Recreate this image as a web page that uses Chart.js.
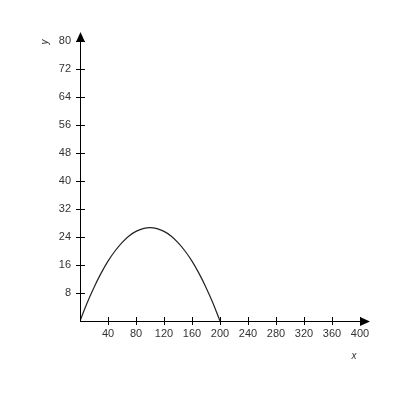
<!DOCTYPE html>
<html>
<head>
<meta charset="utf-8">
<script src="https://cdn.jsdelivr.net/npm/chart.js@4"></script>
<style>
  html, body { margin: 0; padding: 0; background: #fff; }
  #wrap { width: 400px; height: 400px; }
</style>
</head>
<body>
<div id="wrap"><canvas id="myChart" width="400" height="400"></canvas></div>
<script>
// values
const xValues = [0, 10, 20, 30, 40, 50, 60, 70, 80, 90, 100, 110, 120, 130, 140, 150, 160, 170, 180, 190, 200];
const yValues = [0, 5.1, 9.6, 13.6, 17.1, 20, 22.4, 24.3, 25.6, 26.4, 26.7, 26.4, 25.6, 24.3, 22.4, 20, 17.1, 13.6, 9.6, 5.1, 0];
const xTicks = [40, 80, 120, 160, 200, 240, 280, 320, 360, 400];
const yTicks = [8, 16, 24, 32, 40, 48, 56, 64, 72, 80];

const points = xValues.map((x, i) => ({ x: x, y: yValues[i] }));

// axes with arrows and ticks crossing the axis lines
const axesPlugin = {
    id: 'axesPlugin',
    afterDraw(chart) {
        const ctx = chart.ctx;
        const xs = chart.scales.x;
        const ys = chart.scales.y;
        const ox = xs.getPixelForValue(0);
        const oy = ys.getPixelForValue(0);
        ctx.save();
        ctx.strokeStyle = '#000';
        ctx.fillStyle = '#000';
        ctx.lineWidth = 1;

        // axis lines
        ctx.beginPath();
        ctx.moveTo(ox + 0.5, oy);
        ctx.lineTo(ox + 0.5, ys.getPixelForValue(80) - 4);
        ctx.moveTo(ox, oy + 0.5);
        ctx.lineTo(xs.getPixelForValue(400) + 4, oy + 0.5);
        ctx.stroke();

        // tick marks
        ctx.beginPath();
        xTicks.forEach(v => {
            const px = Math.round(xs.getPixelForValue(v)) + 0.5;
            ctx.moveTo(px, oy - 4);
            ctx.lineTo(px, oy + 4);
        });
        yTicks.forEach(v => {
            const py = Math.round(ys.getPixelForValue(v)) + 0.5;
            ctx.moveTo(ox - 4, py);
            ctx.lineTo(ox + 5, py);
        });
        ctx.stroke();

        // arrow heads
        const topY = ys.getPixelForValue(80);
        ctx.beginPath();
        ctx.moveTo(ox + 0.5, topY - 9);
        ctx.lineTo(ox - 4, topY + 1);
        ctx.lineTo(ox + 5, topY + 1);
        ctx.closePath();
        ctx.fill();
        const rightX = xs.getPixelForValue(400);
        ctx.beginPath();
        ctx.moveTo(rightX + 10, oy + 0.5);
        ctx.lineTo(rightX, oy - 4);
        ctx.lineTo(rightX, oy + 5);
        ctx.closePath();
        ctx.fill();

        // axis names
        ctx.fillStyle = '#333';
        ctx.font = 'italic 10px "Liberation Sans", Arial, sans-serif';
        ctx.textAlign = 'center';
        ctx.textBaseline = 'middle';
        ctx.fillText('x', xs.getPixelForValue(400) - 6, oy + 35);
        ctx.translate(45, topY + 1);
        ctx.rotate(-Math.PI / 2);
        ctx.fillText('y', 0, 0);
        ctx.restore();
    }
};

document.addEventListener('DOMContentLoaded', function() {
    const ctx = document.getElementById('myChart').getContext('2d');
    const tickFont = { family: '"Liberation Sans", Arial, sans-serif', size: 11 };

    new Chart(ctx, {
        type: 'scatter',
        data: {
            datasets: [{
                data: points,
                showLine: true,
                borderColor: '#222',
                borderWidth: 1.2,
                pointRadius: 0,
                cubicInterpolationMode: 'monotone',
                fill: false
            }]
        },
        options: {
            responsive: false,
            animation: false,
            devicePixelRatio: 1,
            layout: { padding: { left: 0, right: 40, top: 41, bottom: 0 } },
            plugins: {
                legend: { display: false },
                tooltip: { enabled: false }
            },
            scales: {
                x: {
                    type: 'linear',
                    min: 0,
                    max: 400,
                    afterFit: s => { s.height = 79; },
                    afterBuildTicks: s => { s.ticks = [0].concat(xTicks).map(v => ({ value: v })); },
                    grid: { display: false, drawTicks: false },
                    border: { display: false },
                    ticks: {
                        padding: 6,
                        color: '#333',
                        font: tickFont,
                        maxRotation: 0,
                        autoSkip: false,
                        callback: v => (v === 0 ? '' : v)
                    }
                },
                y: {
                    type: 'linear',
                    min: 0,
                    max: 80,
                    afterFit: s => { s.width = 80; },
                    afterBuildTicks: s => { s.ticks = [0].concat(yTicks).map(v => ({ value: v })); },
                    grid: { display: false, drawTicks: false },
                    border: { display: false },
                    ticks: {
                        padding: 9,
                        color: '#333',
                        font: tickFont,
                        autoSkip: false,
                        callback: v => (v === 0 ? '' : v)
                    }
                }
            }
        },
        plugins: [axesPlugin]
    });
});
</script>
</body>
</html>
